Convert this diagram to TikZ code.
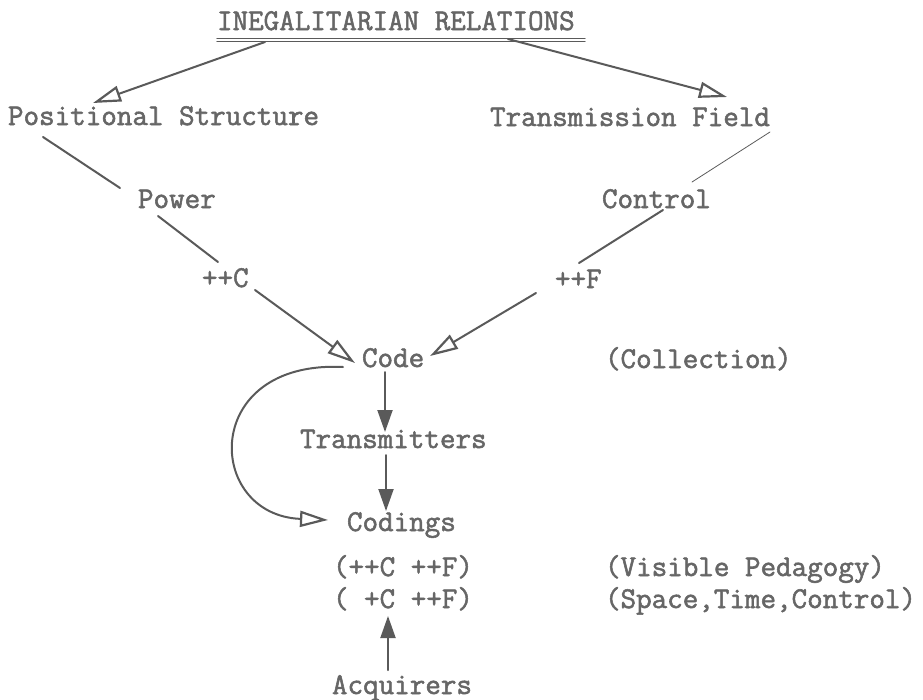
\documentclass[tikz,border=0pt]{standalone}
\usepackage{fontspec}
\newfontfamily\tw{Latin Modern Mono}[FakeBold=1.8]
\usetikzlibrary{arrows.meta}
\definecolor{ink}{HTML}{666666}
\definecolor{lineink}{HTML}{5A5A5A}
\begin{document}
\begin{tikzpicture}[x=1pt,y=-1pt,
  lbl/.style={anchor=base west,inner sep=0pt,outer sep=0pt,text=ink,font=\tw\fontsize{30.2}{34}\selectfont},
  conn/.style={draw=lineink,line width=2pt,line cap=round},
  thinconn/.style={draw=lineink,line width=0.8pt,line cap=round},
  openarr/.style={conn,-{Triangle[open,length=28pt,width=16pt,line width=2.2pt]}},
  fillarr/.style={conn,-{Triangle[length=22pt,width=15pt]}}]
\useasboundingbox (0,0) rectangle (923,699);
% nodes
\node[lbl] (ineg) at (217,30) {INEGALITARIAN RELATIONS};
\node[lbl] (ps) at (8,125) {Positional Structure};
\node[lbl] (tf) at (490,126) {Transmission Field};
\node[lbl] (power) at (138,208) {Power};
\node[lbl] (control) at (602,208) {Control};
\node[lbl] (plusc) at (202,287) {++C};
\node[lbl] (plusf) at (555,288) {++F};
\node[lbl] (code) at (362,367) {Code};
\node[lbl] (coll) at (605,368) {(Collection)};
\node[lbl] (trans) at (300,448) {Transmitters};
\node[lbl] (codings) at (347,531) {Codings};
\node[lbl] (rowa) at (333,576) {(++C ++F)};
\node[lbl] (rowb) at (333,608) {( +C ++F)};
\node[lbl] (vis) at (605,576) {(Visible Pedagogy)};
\node[lbl] (stc) at (605,608) {(Space,Time,Control)};
\node[lbl] (acq) at (332,694) {Acquirers};
% double underline
\draw[conn,line width=1.4pt] ([shift={(0,8.5)}]ineg.base west) -- ([shift={(368,8.5)}]ineg.base west);
\draw[conn,line width=1.4pt] ([shift={(0,11.5)}]ineg.base west) -- ([shift={(368,11.5)}]ineg.base west);
% connectors
\draw[openarr] ([shift={(48,12)}]ineg.base west) -- ([shift={(85,-22)}]ps.base west);
\draw[openarr] ([shift={(291,9)}]ineg.base west) -- ([shift={(237,-29)}]tf.base west);
\draw[conn] ([shift={(35,12)}]ps.base west) -- ([shift={(-18,-20)}]power.base west);
\draw[conn] ([shift={(20,8)}]power.base west) -- ([shift={(16,-25)}]plusc.base west);
\draw[thinconn] ([shift={(280,6)}]tf.base west) -- ([shift={(90,-26)}]control.base west);
\draw[conn] ([shift={(61,2)}]control.base west) -- ([shift={(24,-25)}]plusf.base west);
\draw[openarr] ([shift={(53,3)}]plusc.base west) -- ([shift={(-7,-4)}]code.base west);
\draw[openarr] ([shift={(-19,5)}]plusf.base west) -- ([shift={(68,-11)}]code.base west);
\draw[fillarr] ([shift={(23,5)}]code.base west) -- ([shift={(85,-16)}]trans.base west);
\draw[fillarr] ([shift={(86,7)}]trans.base west) -- ([shift={(39,-20)}]codings.base west);
\draw[openarr] ([shift={(-19,0)}]code.base west) .. controls (200,360) and (205,515) .. ([shift={(-19,-11)}]codings.base west);
\draw[fillarr] ([shift={(56,-24)}]acq.base west) -- ([shift={(55,8)}]rowb.base west);
\end{tikzpicture}
\end{document}
